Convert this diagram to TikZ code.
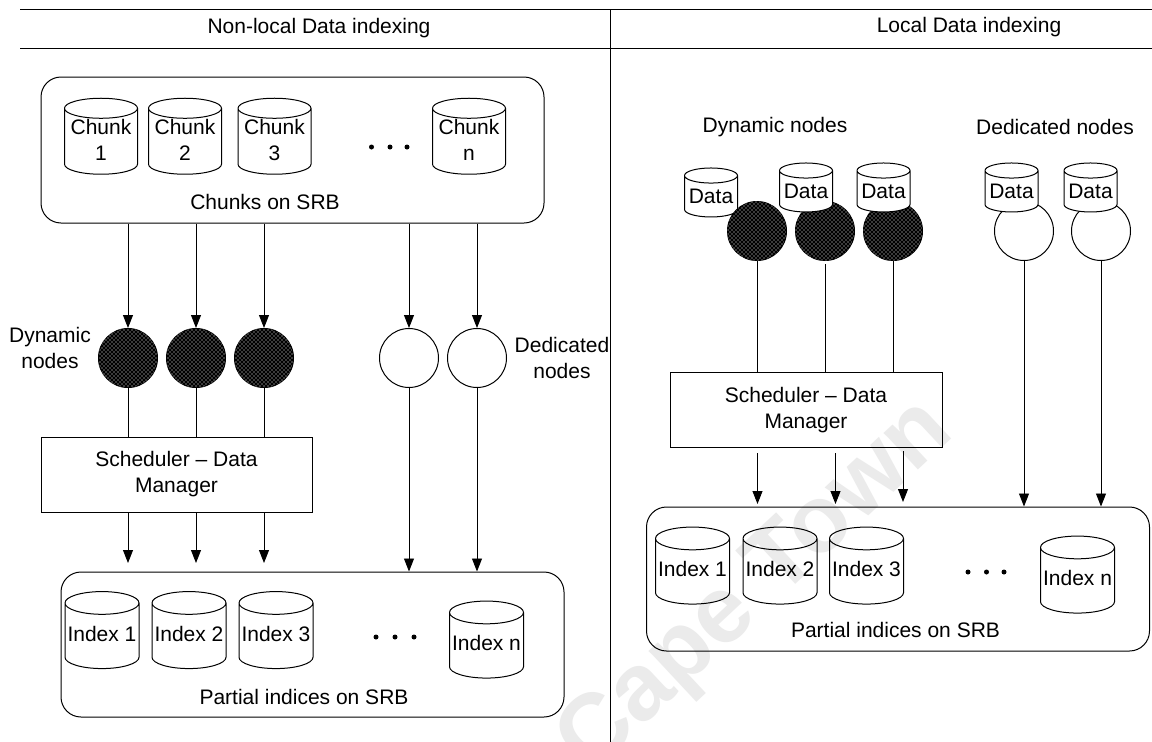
\documentclass[tikz,border=0pt]{standalone}
\usepackage{fontspec}
\setmainfont{Liberation Sans}
\usetikzlibrary{arrows.meta}
\usetikzlibrary{shapes.geometric}
\usetikzlibrary{patterns}

\pgfdeclarepatternformonly{nodedots}{\pgfqpoint{-1pt}{-1pt}}{\pgfqpoint{5pt}{5pt}}{\pgfqpoint{4pt}{4pt}}{%
  \pgfpathcircle{\pgfqpoint{0pt}{0pt}}{0.72pt}%
  \pgfpathcircle{\pgfqpoint{2pt}{2pt}}{0.72pt}%
  \pgfusepath{fill}}

\tikzset{
  panelrule/.style={line width=1pt},
  cylnode/.style={draw,cylinder,shape border rotate=90,shape aspect=0.33,inner sep=0pt,align=center,line width=1pt},
  chunkcyl/.style={cylnode,minimum width=73pt,minimum height=76pt,text depth=4pt},
  indexcyl/.style={cylnode,minimum width=74pt,minimum height=77pt,text depth=5pt},
  datacyl/.style={cylnode,fill=white,shape aspect=0.34,minimum width=53pt,minimum height=49pt},
  panelbox/.style={draw,rounded corners=20pt,line width=1pt,inner sep=0pt},
  schedbox/.style={draw,line width=1pt,inner sep=0pt,align=center},
  dynnode/.style={circle,draw,minimum size=59pt,inner sep=0pt,fill=black,line width=1pt,postaction={pattern=nodedots,pattern color=white}},
  dednode/.style={circle,draw,minimum size=59pt,inner sep=0pt,fill=white,line width=1pt},
  flow/.style={-{Triangle[length=13pt,width=10pt]},line width=0.9pt},
  plain/.style={line width=0.9pt},
  dots/.style={circle,fill=black,minimum size=5pt,inner sep=0pt},
  caption/.style={align=center,inner sep=0pt},
}

\begin{document}
\begin{tikzpicture}[x=1pt,y=-1pt,font=\fontsize{21}{26}\selectfont]
  \useasboundingbox (0,0) rectangle (1152,742);
  \fill[white] (0,0) rectangle (1152,742);

  % faint stamp
  \node[rotate=43,text=black!8,font=\bfseries\fontsize{95}{95}\selectfont,inner sep=0pt] (stamp) at (757,588) {Cape Town};

  % headers
  \node[caption] (headleft) at (319,28) {Non-local Data indexing};
  \node[caption] (headright) at (969,27) {Local Data indexing};
  \coordinate (ruletopa) at (20,9);
  \coordinate (ruletopb) at (1152,9);
  \coordinate (rulemida) at (20,48);
  \coordinate (rulemidb) at (1152,48);
  \coordinate (splita) at (610,9);
  \coordinate (splitb) at (610,742);
  \draw[panelrule] (ruletopa) -- (ruletopb);
  \draw[panelrule] (rulemida) -- (rulemidb);
  \draw[panelrule] (splita) -- (splitb);

  % left panel, chunks
  \node[panelbox,minimum width=503pt,minimum height=146pt] (chunkbox) at (292.5,150) {};
  \node[chunkcyl] (chunk1) at (101,141.5) {Chunk\\1};
  \node[chunkcyl] (chunk2) at (185,141.5) {Chunk\\2};
  \node[chunkcyl] (chunk3) at (274.5,141.5) {Chunk\\3};
  \node[chunkcyl] (chunkn) at (469,141.5) {Chunk\\n};
  \node[dots] (dota1) at (371.5,147) {};
  \node[dots] (dota2) at (390,147) {};
  \node[dots] (dota3) at (407,147) {};
  \node[caption] (chunklabel) at (265,202) {Chunks on SRB};

  % left panel, compute nodes
  \node[dynnode] (dyna1) at (128,358) {};
  \node[dynnode] (dyna2) at (196,358) {};
  \node[dynnode] (dyna3) at (264,358) {};
  \node[dednode] (deda1) at (409,358) {};
  \node[dednode] (deda2) at (477,358) {};
  \node[caption] (dynlabela) at (50,348) {Dynamic\\nodes};
  \node[caption] (dedlabela) at (562,358) {Dedicated\\nodes};

  \draw[flow] (chunkbox.south -| dyna1.north) -- (dyna1.north);
  \draw[flow] (chunkbox.south -| dyna2.north) -- (dyna2.north);
  \draw[flow] (chunkbox.south -| dyna3.north) -- (dyna3.north);
  \draw[flow] (chunkbox.south -| deda1.north) -- (deda1.north);
  \draw[flow] (chunkbox.south -| deda2.north) -- (deda2.north);

  % left panel, scheduler
  \node[schedbox,minimum width=271pt,minimum height=75pt] (scheda) at (176.5,474.5) {Scheduler -- Data\\Manager};
  \draw[plain] (dyna1.south) -- (scheda.north -| dyna1.south);
  \draw[plain] (dyna2.south) -- (scheda.north -| dyna2.south);
  \draw[plain] (dyna3.south) -- (scheda.north -| dyna3.south);

  % left panel, indices
  \node[panelbox,minimum width=503pt,minimum height=145pt] (indexboxa) at (312.5,644.5) {};
  \node[indexcyl] (indexa1) at (102,636) {Index 1};
  \node[indexcyl] (indexa2) at (189,636) {Index 2};
  \node[indexcyl] (indexa3) at (276,636) {Index 3};
  \node[indexcyl] (indexan) at (486.5,645.5) {Index n};
  \node[dots] (dotb1) at (376,637) {};
  \node[dots] (dotb2) at (395,637) {};
  \node[dots] (dotb3) at (414,637) {};
  \node[caption] (indexlabela) at (304,697) {Partial indices on SRB};

  \coordinate (tipa1) at (128,563);
  \coordinate (tipa2) at (196,563);
  \coordinate (tipa3) at (264,563);
  \draw[flow] (scheda.south -| tipa1) -- (tipa1);
  \draw[flow] (scheda.south -| tipa2) -- (tipa2);
  \draw[flow] (scheda.south -| tipa3) -- (tipa3);
  \draw[flow] (deda1.south) -- (indexboxa.north -| deda1.south);
  \draw[flow] (deda2.south) -- (indexboxa.north -| deda2.south);

  % right panel, compute nodes
  \node[caption] (dynlabelb) at (775,127) {Dynamic nodes};
  \node[caption] (dedlabelb) at (1055,127) {Dedicated nodes};
  \node[datacyl] (data1) at (711,196.5) {Data};
  \node[dynnode] (dynb1) at (757,231) {};
  \node[dynnode] (dynb2) at (825,231) {};
  \node[dynnode] (dynb3) at (893,231) {};
  \node[dednode] (dedb1) at (1024,231) {};
  \node[dednode] (dedb2) at (1101,231) {};
  \node[datacyl] (data2) at (806,191.5) {Data};
  \node[datacyl] (data3) at (883.5,191.5) {Data};
  \node[datacyl] (data4) at (1011.5,191.5) {Data};
  \node[datacyl] (data5) at (1090.5,191.5) {Data};

  % right panel, scheduler
  \node[schedbox,minimum width=272pt,minimum height=75pt] (schedb) at (806,410) {Scheduler -- Data\\Manager};
  \draw[plain] (dynb1.south) -- (schedb.north -| dynb1.south);
  \coordinate (gapb2) at (825,264);
  \draw[plain] (gapb2) -- (schedb.north -| gapb2);
  \draw[plain] (dynb3.south) -- (schedb.north -| dynb3.south);

  % right panel, indices
  \node[panelbox,minimum width=503pt,minimum height=144pt] (indexboxb) at (898,579) {};
  \node[indexcyl] (indexb1) at (692.5,571.5) {Index 1};
  \node[indexcyl] (indexb2) at (780,571.5) {Index 2};
  \node[indexcyl] (indexb3) at (866.5,571.5) {Index 3};
  \node[indexcyl] (indexbn) at (1077.5,580.5) {Index n};
  \node[dots] (dotc1) at (968,572) {};
  \node[dots] (dotc2) at (986.5,572) {};
  \node[dots] (dotc3) at (1004,572) {};
  \node[caption] (indexlabelb) at (895.5,630) {Partial indices on SRB};

  \coordinate (startb1) at (757.5,453);
  \coordinate (startb2) at (835.5,453);
  \coordinate (startb3) at (903,451);
  \coordinate (tipb1) at (757.5,504);
  \coordinate (tipb2) at (835.5,504);
  \coordinate (tipb3) at (903,502);
  \draw[flow] (startb1) -- (tipb1);
  \draw[flow] (startb2) -- (tipb2);
  \draw[flow] (startb3) -- (tipb3);
  \draw[flow] (dedb1.south) -- (indexboxb.north -| dedb1.south);
  \draw[flow] (dedb2.south) -- (indexboxb.north -| dedb2.south);
\end{tikzpicture}
\end{document}
